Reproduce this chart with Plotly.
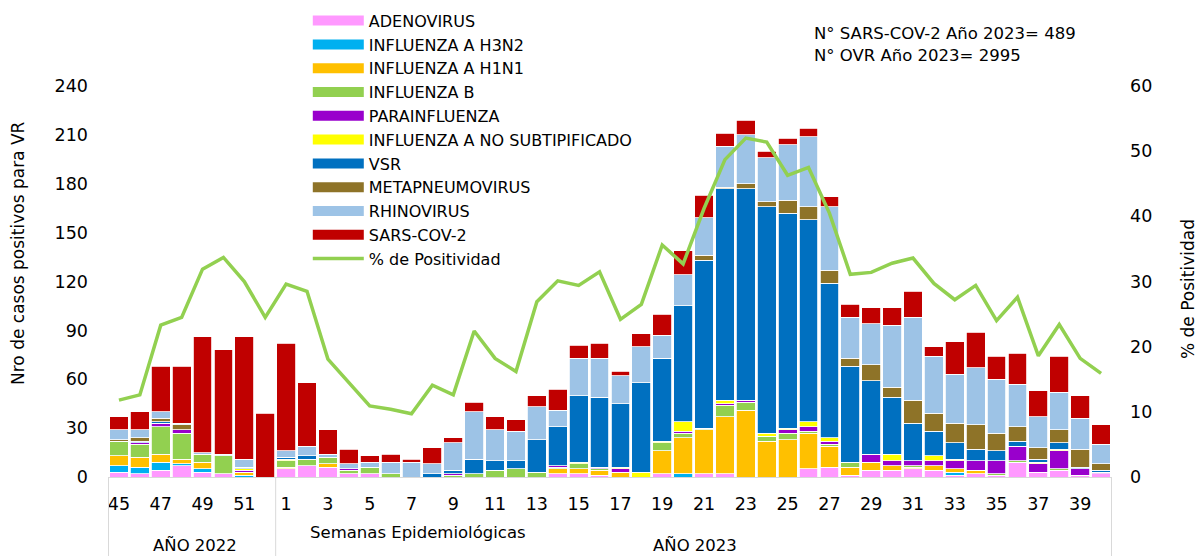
import plotly.graph_objects as go

weeks_2022 = [45, 46, 47, 48, 49, 50, 51, 52]
weeks_2023 = list(range(1, 41))
week_labels = weeks_2022 + weeks_2023
categories = [f"{w}/2022" for w in weeks_2022] + [f"{w}/2023" for w in weeks_2023]

adenovirus = [3, 2, 4, 7, 3, 2, 0, 0,
              5, 7, 6, 2, 2, 0, 0, 0, 0, 0, 0, 0, 0, 2, 2, 1, 0, 0, 2, 0, 2, 2,
              0, 0, 0, 5, 6, 1, 4, 4, 5, 4, 1, 2, 1, 9, 3, 4, 1, 2]
h3n2 = [4, 4, 5, 1, 2, 0, 1, 0,
        0, 0, 0, 0, 0, 0, 0, 0, 0, 0, 0, 0, 0, 0, 0, 0, 0, 0, 0, 2, 0, 0,
        0, 0, 0, 0, 0, 0, 0, 0, 0, 0, 2, 0, 0, 0, 0, 0, 0, 0]
h1n1 = [6, 6, 5, 3, 4, 0, 2, 0,
        1, 0, 2, 0, 0, 0, 0, 0, 0, 0, 0, 0, 0, 3, 3, 3, 3, 0, 14, 22, 27, 35,
        41, 22, 23, 22, 13, 5, 5, 3, 1, 3, 2, 2, 0, 0, 0, 0, 0, 0]
influenza_b = [9, 8, 17, 16, 5, 11, 0, 0,
               4, 4, 4, 2, 4, 2, 0, 0, 1, 2, 4, 5, 3, 1, 3, 1, 0, 0, 5, 3, 1, 7,
               5, 3, 4, 1, 1, 3, 0, 0, 1, 0, 0, 0, 1, 1, 0, 1, 0, 0]
parainfluenza = [0, 1, 2, 2, 0, 0, 1, 0,
                 0, 0, 0, 1, 0, 0, 0, 0, 1, 0, 0, 0, 0, 1, 0, 1, 2, 0, 0, 1, 0, 1,
                 1, 0, 2, 3, 2, 0, 5, 3, 3, 3, 5, 6, 8, 9, 5, 11, 4, 1]
no_subtipificado = [0, 0, 0, 0, 0, 0, 1, 0,
                    1, 0, 0, 0, 0, 0, 0, 0, 0, 0, 0, 0, 0, 0, 1, 0, 1, 3, 1, 6, 0, 2,
                    0, 2, 1, 3, 2, 0, 0, 4, 0, 3, 1, 0, 0, 0, 1, 1, 0, 0]
vsr = [0, 1, 1, 0, 0, 0, 1, 0,
       1, 2, 0, 0, 0, 0, 0, 2, 2, 9, 6, 5, 20, 24, 41, 43, 39, 55, 51, 71, 103, 130,
       130, 139, 132, 124, 95, 59, 45, 35, 23, 15, 10, 7, 6, 3, 2, 4, 1, 1]
metapneumovirus = [1, 2, 2, 3, 0, 0, 0, 0,
                   0, 0, 0, 0, 0, 0, 0, 0, 0, 0, 0, 0, 0, 0, 0, 0, 0, 0, 0, 0, 3, 1,
                   3, 3, 8, 8, 8, 5, 10, 6, 14, 11, 12, 15, 11, 9, 7, 8, 11, 4]
rhinovirus = [6, 5, 4, 1, 1, 1, 5, 0,
              4, 6, 2, 3, 3, 7, 9, 6, 17, 29, 19, 18, 20, 10, 23, 24, 17, 22, 14, 19, 23, 25,
              30, 27, 34, 43, 39, 25, 25, 38, 51, 35, 30, 35, 33, 26, 19, 23, 19, 12]
sars_cov_2 = [8, 11, 28, 35, 71, 64, 75, 39,
              66, 39, 15, 9, 4, 5, 2, 10, 3, 6, 8, 7, 7, 13, 8, 9, 3, 8, 13, 15, 14, 8,
              9, 4, 4, 5, 6, 8, 10, 11, 16, 6, 20, 22, 14, 19, 16, 22, 14, 12]
positividad = [11.8, 12.6, 23.3, 24.5, 31.9, 33.7, 30.0, 24.5,
               29.6, 28.5, 18.1, 14.4, 10.9, 10.4, 9.7, 14.1, 12.6, 22.4, 18.2, 16.2,
               26.9, 30.1, 29.4, 31.5, 24.2, 26.5, 35.6, 32.7, 41.2, 48.7,
               52.0, 51.4, 46.3, 47.5, 40.5, 31.1, 31.4, 32.8, 33.6, 29.7,
               27.2, 29.4, 24.0, 27.6, 18.6, 23.4, 18.2, 15.9]

series = [
    ("ADENOVIRUS", adenovirus, "#FF99FF"),
    ("INFLUENZA A H3N2", h3n2, "#00B0F0"),
    ("INFLUENZA A H1N1", h1n1, "#FFC000"),
    ("INFLUENZA B", influenza_b, "#92D050"),
    ("PARAINFLUENZA", parainfluenza, "#9900CC"),
    ("INFLUENZA A NO SUBTIPIFICADO", no_subtipificado, "#FFFF00"),
    ("VSR", vsr, "#0070C0"),
    ("METAPNEUMOVIRUS", metapneumovirus, "#8E7328"),
    ("RHINOVIRUS", rhinovirus, "#9DC3E6"),
    ("SARS-COV-2", sars_cov_2, "#C00000"),
]

FONT = "DejaVu Sans"
fig = go.Figure()

for name, vals, color in series:
    fig.add_trace(go.Bar(
        x=categories, y=vals, name=name, marker_color=color,
        marker_line=dict(color="white", width=0.8),
        legendgroup=name, showlegend=False,
    ))
    # legend swatch (wide rectangle like the original)
    fig.add_trace(go.Scatter(
        x=[None], y=[None], mode="lines", name=name, legendgroup=name,
        line=dict(color=color, width=11), showlegend=True, hoverinfo="skip",
    ))

fig.add_trace(go.Scatter(
    x=categories, y=positividad, name="% de Positividad", mode="lines",
    line=dict(color="#92D050", width=3.5), yaxis="y2",
))

ticktext = [str(w) for w in week_labels[::2]]
tickvals = categories[::2]

# the page body adds an 8px offset; the figure is sized so the plot area
# lands at x 108..1112, y 86..477 of the 1203x556 window
fig.update_layout(
    width=1195, height=548,
    margin=dict(l=100, r=91, t=78, b=79, autoexpand=False),
    paper_bgcolor="white", plot_bgcolor="white",
    barmode="stack", bargap=0.1,
    font=dict(family=FONT, size=17, color="#000000"),
    showlegend=True,
    legend=dict(
        x=0.199, xanchor="left", y=1.2105, yanchor="top",
        traceorder="normal", font=dict(family=FONT, size=16),
        bgcolor="rgba(0,0,0,0)", itemwidth=51,
    ),
    xaxis=dict(
        type="category", categoryorder="array", categoryarray=categories,
        tickvals=tickvals, ticktext=ticktext, ticks="",
        showline=True, linecolor="#D9D9D9", linewidth=1,
        showgrid=False, zeroline=False,
        tickfont=dict(family=FONT, size=17.5), ticklabelstandoff=11,
    ),
    yaxis=dict(
        range=[0, 240], dtick=30, tick0=0, showgrid=False, zeroline=False,
        showline=False, ticks="", tickfont=dict(family=FONT, size=17.5),
        ticklabelstandoff=19,
    ),
    yaxis2=dict(
        range=[0, 60], dtick=10, tick0=0, overlaying="y", side="right",
        showgrid=False, zeroline=False, showline=False, ticks="",
        tickfont=dict(family=FONT, size=17.5), ticklabelstandoff=17,
    ),
)

line_style = dict(color="#D9D9D9", width=1)
for xv in [-0.5, len(weeks_2022) - 0.5, len(categories) - 0.5]:
    fig.add_shape(type="line", xref="x", yref="paper", x0=xv, x1=xv,
                  y0=0, y1=-0.21, line=line_style)

annotations = [
    dict(text="N° SARS-COV-2 Año 2023= 489", x=(812 - 108) / 1004, y=(477 - 33) / 391,
         xanchor="left", yanchor="middle", size=16.5),
    dict(text="N° OVR Año 2023= 2995", x=(812 - 108) / 1004, y=(477 - 55) / 391,
         xanchor="left", yanchor="middle", size=16.5),
    dict(text="Semanas Epidemiológicas", x=(418 - 108) / 1004, y=(477 - 532) / 391,
         xanchor="center", yanchor="middle", size=16.5),
    dict(text="AÑO 2022", x=(195 - 108) / 1004, y=(477 - 545) / 391,
         xanchor="center", yanchor="middle", size=16.5),
    dict(text="AÑO 2023", x=(695 - 108) / 1004, y=(477 - 545) / 391,
         xanchor="center", yanchor="middle", size=16.5),
    dict(text="Nro de casos positivos para VR", x=(18 - 108) / 1004, y=(477 - 253) / 391,
         xanchor="center", yanchor="middle", textangle=-90, size=17),
    dict(text="% de Positividad", x=(1188 - 108) / 1004, y=(477 - 289) / 391,
         xanchor="center", yanchor="middle", textangle=-90, size=17),
]
for a in annotations:
    size = a.pop("size")
    fig.add_annotation(xref="paper", yref="paper", showarrow=False,
                       font=dict(family=FONT, size=size, color="#000000"), **a)

fig.write_html("out.html")
